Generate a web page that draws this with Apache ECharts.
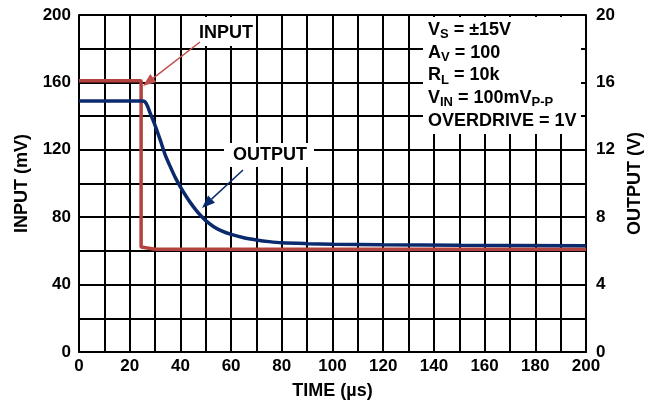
<!DOCTYPE html>
<html>
<head>
<meta charset="utf-8">
<script src="https://cdn.jsdelivr.net/npm/echarts@6/dist/echarts.min.js"></script>
<style>
html,body{margin:0;padding:0;background:#fff;}
#c{width:649px;height:400px;}
</style>
</head>
<body>
<div id="c"></div>
<script>
// Data (time in µs)
const inputTime = [0, 24.5, 24.5, 30, 200];
const inputMv   = [161, 161, 62.3, 61, 61];
const outputTime = [0, 25, 26, 27, 28, 30, 32, 34, 36, 38, 40, 42, 44, 46, 48, 50, 53, 56, 60, 65, 70, 75, 80, 90, 100, 120, 150, 200];
const outputV    = [14.9, 14.9, 14.85, 14.6, 14.2, 13.45, 12.6, 11.7, 11.0, 10.35, 9.8, 9.3, 8.85, 8.45, 8.1, 7.8, 7.45, 7.2, 6.98, 6.78, 6.65, 6.55, 6.48, 6.43, 6.4, 6.37, 6.34, 6.31];
const xTicks = [0, 20, 40, 60, 80, 100, 120, 140, 160, 180, 200];
const leftTicks = [0, 40, 80, 120, 160, 200];
const rightTicks = [0, 4, 8, 12, 16, 20];

const RED = '#B3423F';
const NAVY = '#0B2A6E';
const FONT = '"Liberation Sans", Arial, Helvetica, sans-serif';

const chart = echarts.init(document.getElementById('c'), null, {renderer: 'canvas'});

function arrow(x1, y1, x2, y2, color, lw, len, half) {
  const dx = x2 - x1, dy = y2 - y1, L = Math.sqrt(dx*dx + dy*dy);
  const ux = dx / L, uy = dy / L;
  const bx = x2 - ux * len, by = y2 - uy * len;
  const nx = -uy * half, ny = ux * half;
  return [
    {type: 'line', z: 101, shape: {x1: x1, y1: y1, x2: bx, y2: by}, style: {stroke: color, lineWidth: lw}},
    {type: 'polygon', z: 101, shape: {points: [[x2, y2], [bx + nx, by + ny], [bx - nx, by - ny]]}, style: {fill: color}}
  ];
}

const mainStyle = {fontSize: 18, fontWeight: 'bold', fontFamily: FONT, color: '#000', lineHeight: 18, verticalAlign: 'top'};
const subStyle = {fontSize: 13, fontWeight: 'bold', fontFamily: FONT, color: '#000', lineHeight: 13, verticalAlign: 'top', padding: [7, 0, 0, 0]};
const condLines = [
  '{m|V}{s|S}{m| = ±15V}',
  '{m|A}{s|V}{m| = 100}',
  '{m|R}{s|L}{m| = 10k}',
  '{m|V}{s|IN}{m| = 100mV}{s|P-P}',
  '{m|OVERDRIVE = 1V}'
];
const condTexts = condLines.map((t, i) => ({
  type: 'text', z: 102, x: 428, y: 21 + i * 22.75,
  style: {text: t, verticalAlign: 'top', align: 'left', rich: {m: mainStyle, s: subStyle}}
}));

const option = {
  backgroundColor: '#fff',
  animation: false,
  grid: {left: 79, right: 63, top: 15, bottom: 48, containLabel: false, outerBoundsMode: 'none'},
  xAxis: {
    type: 'value', min: 0, max: 200, interval: 10,
    name: 'TIME (µs)', nameLocation: 'middle', nameGap: 30,
    nameTextStyle: {fontSize: 18, fontWeight: 'bold', fontFamily: FONT, color: '#000'},
    axisLine: {show: true, lineStyle: {color: '#000', width: 2}},
    axisTick: {show: false},
    axisLabel: {fontSize: 17, fontWeight: 'bold', fontFamily: FONT, color: '#000', margin: 6,
      formatter: v => xTicks.indexOf(v) >= 0 ? String(v) : ''},
    splitLine: {show: true, lineStyle: {color: '#000', width: 2}}
  },
  yAxis: [{
    type: 'value', min: 0, max: 200, interval: 20, position: 'left',
    name: 'INPUT (mV)', nameLocation: 'middle', nameRotate: 90, nameGap: 48,
    nameTextStyle: {fontSize: 18, fontWeight: 'bold', fontFamily: FONT, color: '#000'},
    axisLine: {show: true, lineStyle: {color: '#000', width: 2}},
    axisTick: {show: false},
    axisLabel: {fontSize: 17, fontWeight: 'bold', fontFamily: FONT, color: '#000', margin: 8,
      formatter: v => leftTicks.indexOf(v) >= 0 ? String(v) : ''},
    splitLine: {show: true, lineStyle: {color: '#000', width: 2}}
  }, {
    type: 'value', min: 0, max: 20, interval: 2, position: 'right',
    name: 'OUTPUT (V)', nameLocation: 'middle', nameRotate: 90, nameGap: 38,
    nameTextStyle: {fontSize: 18, fontWeight: 'bold', fontFamily: FONT, color: '#000'},
    axisLine: {show: true, lineStyle: {color: '#000', width: 2}},
    axisTick: {show: false},
    axisLabel: {fontSize: 17, fontWeight: 'bold', fontFamily: FONT, color: '#000', margin: 10,
      formatter: v => rightTicks.indexOf(v) >= 0 ? String(v) : ''},
    splitLine: {show: false}
  }],
  series: [{
    name: 'INPUT', type: 'line', yAxisIndex: 0, showSymbol: false, symbol: 'none', z: 3,
    data: inputTime.map((t, i) => [t, inputMv[i]]),
    lineStyle: {color: RED, width: 3.5}
  }, {
    name: 'OUTPUT', type: 'line', yAxisIndex: 1, showSymbol: false, symbol: 'none', z: 4,
    smooth: 0.3,
    data: outputTime.map((t, i) => [t, outputV[i]]),
    lineStyle: {color: NAVY, width: 3.5}
  }],
  graphic: [
    {type: 'rect', z: 100, shape: {x: 423, y: 17, width: 158, height: 117}, style: {fill: '#fff'}},
    {type: 'rect', z: 100, shape: {x: 195, y: 17, width: 59, height: 29}, style: {fill: '#fff'}},
    {type: 'rect', z: 100, shape: {x: 224, y: 143, width: 90, height: 24}, style: {fill: '#fff'}},
    {type: 'text', z: 102, x: 226, y: 33, style: {text: 'INPUT', font: 'bold 18px ' + FONT, fill: '#000', align: 'center', verticalAlign: 'middle'}},
    {type: 'text', z: 102, x: 270, y: 155, style: {text: 'OUTPUT', font: 'bold 18px ' + FONT, fill: '#000', align: 'center', verticalAlign: 'middle'}},
    ...arrow(200, 42, 143, 86, '#C0504D', 1.5, 13, 5),
    ...arrow(243, 170, 202, 208, NAVY, 1.5, 13, 5),
    ...condTexts
  ]
};
chart.setOption(option);
</script>
</body>
</html>
